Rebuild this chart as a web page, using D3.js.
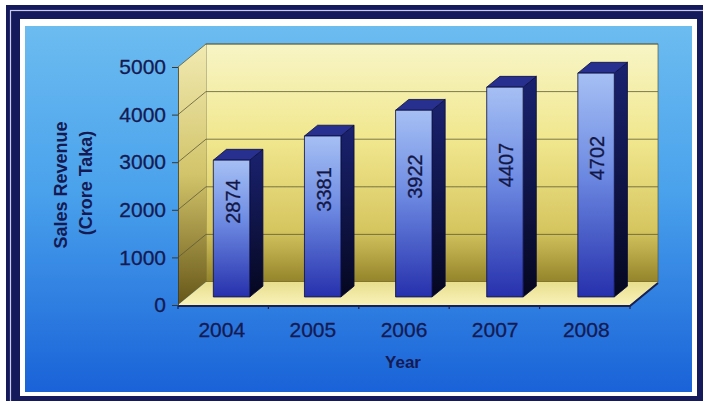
<!DOCTYPE html>
<html>
<head>
<meta charset="utf-8">
<script src="https://cdn.jsdelivr.net/npm/d3@7"></script>
<style>
  html, body { margin: 0; padding: 0; background: #ffffff; }
  svg { display: block; }
  text { font-family: "Liberation Sans", Arial, sans-serif; }
</style>
</head>
<body>
<svg id="chart" width="703" height="401"></svg>
<script>
// ---- data ----
const years = ["2004", "2005", "2006", "2007", "2008"];
const revenue = [2874, 3381, 3922, 4407, 4702];
const yTicks = [0, 1000, 2000, 3000, 4000, 5000];
const yTitle = ["Sales Revenue", "(Crore Taka)"];
const xTitle = "Year";

// ---- layout ----
const W = 703, H = 401;
const svg = d3.select("#chart");
const defs = svg.append("defs");

function lin(id, stops, x2, y2) {
  const g = defs.append("linearGradient").attr("id", id)
    .attr("x1", 0).attr("y1", 0).attr("x2", x2 || 0).attr("y2", y2 === undefined ? 1 : y2);
  stops.forEach(s => g.append("stop").attr("offset", s[0]).attr("stop-color", s[1]));
}
lin("panel", [[0, "#6cbcf0"], [0.45, "#4aa2ec"], [1, "#1962d8"]]);
lin("wall", [[0, "#f8f5c6"], [0.4, "#f1e78e"], [0.78, "#d6c660"], [1, "#94842a"]]);
lin("side", [[0, "#f1eab2"], [0.5, "#d2c46a"], [1, "#665618"]]);
lin("floor", [[0, "#e9de8e"], [1, "#f8f2b8"]]);
lin("barFront", [[0, "#a6c0f4"], [0.45, "#6d8ae2"], [1, "#2630ac"]]);
lin("barSide", [[0, "#1a2270"], [1, "#05071f"]]);

// frame
svg.append("rect").attr("x", 6).attr("y", 5).attr("width", W).attr("height", H).attr("fill", "#141a5c");
svg.append("rect").attr("x", 10.5).attr("y", 10.5).attr("width", W).attr("height", H)
  .attr("fill", "none").attr("stroke", "#c8cce8").attr("stroke-width", 1.2);
svg.append("rect").attr("x", 20).attr("y", 19).attr("width", 677).attr("height", 377).attr("fill", "#ffffff");
svg.append("rect").attr("x", 25).attr("y", 26).attr("width", 667).attr("height", 366).attr("fill", "url(#panel)");

// scales (front plane)
const x = d3.scaleBand().domain(years).range([178, 630]).paddingInner(0.6).paddingOuter(0.28);
const y = d3.scaleLinear().domain([0, 5000]).range([305, 67]);
const DX = 28, DY = -23;              // full depth offset
const x0 = x.range()[0], x1 = x.range()[1];

// back wall
svg.append("rect").attr("x", x0 + DX).attr("y", y(5000) + DY)
  .attr("width", x1 - x0).attr("height", y(0) - y(5000))
  .attr("fill", "url(#wall)").attr("stroke", "#5a5a40").attr("stroke-width", 0.7);

// side wall
svg.append("polygon")
  .attr("points", [[x0, y(5000)], [x0 + DX, y(5000) + DY], [x0 + DX, y(0) + DY], [x0, y(0)]].join(" "))
  .attr("fill", "url(#side)");

// floor
svg.append("polygon")
  .attr("points", [[x0, y(0)], [x1, y(0)], [x1 + DX, y(0) + DY], [x0 + DX, y(0) + DY]].join(" "))
  .attr("fill", "url(#floor)");
svg.append("path")
  .attr("d", `M${x0},${y(0) + 1}L${x1},${y(0) + 1}L${x1 + DX},${y(0) + DY + 1}`)
  .attr("fill", "none").attr("stroke", "#1a2050").attr("stroke-width", 2);

// gridlines
const grid = svg.append("g").attr("stroke", "#5e5a36").attr("stroke-width", 0.8).attr("fill", "none");
yTicks.filter(t => t > 0).forEach(t => {
  grid.append("path").attr("d", `M${x0},${y(t)}L${x0 + DX},${y(t) + DY}L${x1 + DX},${y(t) + DY}`);
});

// y axis
const yAxis = d3.axisLeft(y).tickValues(yTicks).tickSize(6).tickPadding(6).tickFormat(d3.format("d"));
const gy = svg.append("g").attr("transform", `translate(${x0},0)`).call(yAxis);
gy.select(".domain").attr("stroke", "#3a3a30").attr("stroke-width", 0.8);
gy.selectAll(".tick line").attr("stroke", "#3a3a30");
gy.selectAll(".tick text").attr("font-size", 21).attr("fill", "#151a52")
  .attr("stroke", "#151a52").attr("stroke-width", 0.3)
  .attr("font-family", "'Liberation Sans', Arial, sans-serif");

// x axis
const xAxis = d3.axisBottom(x).tickSize(0).tickPadding(17);
const gx = svg.append("g").attr("transform", `translate(0,${y(0)})`).call(xAxis);
gx.select(".domain").remove();
gx.selectAll(".tick text").attr("font-size", 21).attr("fill", "#151a52")
  .attr("stroke", "#151a52").attr("stroke-width", 0.3)
  .attr("font-family", "'Liberation Sans', Arial, sans-serif");
// category boundary ticks
d3.range(years.length + 1).forEach(i => {
  const bx = x0 + i * (x1 - x0) / years.length;
  svg.append("line").attr("x1", bx).attr("x2", bx).attr("y1", y(0) + 1).attr("y2", y(0) + 4)
    .attr("stroke", "#1a2050").attr("stroke-width", 1.2);
});

// bars
const F0 = 0.35, F1 = 0.82;
const ox = DX * F0, oy = DY * F0;
const ddx = DX * (F1 - F0), ddy = DY * (F1 - F0);
const bw = x.bandwidth();
const bars = svg.append("g");
years.forEach((yr, i) => {
  const v = revenue[i];
  const bx = x(yr) + ox, bx2 = bx + bw;
  const yt = y(v) + oy, yb = y(0) + oy;
  const g = bars.append("g").attr("stroke", "#0a0e40").attr("stroke-width", 0.8).attr("stroke-linejoin", "round");
  g.append("polygon").attr("points", [[bx2, yt], [bx2 + ddx, yt + ddy], [bx2 + ddx, yb + ddy], [bx2, yb]].join(" "))
    .attr("fill", "url(#barSide)");
  g.append("polygon").attr("points", [[bx, yt], [bx2, yt], [bx2 + ddx, yt + ddy], [bx + ddx, yt + ddy]].join(" "))
    .attr("fill", "#27308e");
  g.append("rect").attr("x", bx).attr("y", yt).attr("width", bw).attr("height", yb - yt)
    .attr("fill", "url(#barFront)");
  // value label
  const lx = bx + bw / 2 + 1, ly = y(v / 2) + oy - 27;
  bars.append("text").attr("transform", `translate(${lx},${ly}) rotate(-90)`)
    .attr("text-anchor", "middle").attr("dominant-baseline", "central")
    .attr("font-size", 20).attr("fill", "#131745").attr("stroke", "#131745").attr("stroke-width", 0.3)
    .text(d3.format("d")(v));
});

// axis titles
svg.append("text").attr("x", 403).attr("y", 368).attr("text-anchor", "middle")
  .attr("font-size", 17).attr("font-weight", "bold").attr("fill", "#151a52").text(xTitle);
svg.append("text").attr("transform", "translate(67,185) rotate(-90)").attr("text-anchor", "middle")
  .attr("font-size", 18).attr("font-weight", "bold").attr("fill", "#151a52").text(yTitle[0]);
svg.append("text").attr("transform", "translate(92,183) rotate(-90)").attr("text-anchor", "middle")
  .attr("font-size", 18).attr("font-weight", "bold").attr("fill", "#151a52").text(yTitle[1]);
</script>
</body>
</html>
